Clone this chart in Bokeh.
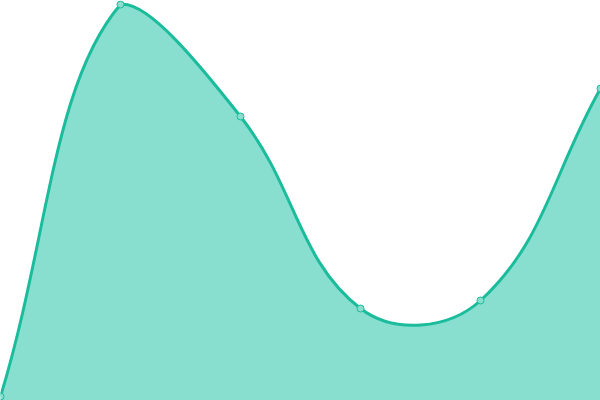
import math
from bokeh.plotting import figure
from bokeh.models import ColumnDataSource
from bokeh.embed import file_html
from bokeh.resources import INLINE

# ---- data ----
labels = ["1", "2", "3", "4", "5", "6"]
values = [1, 99, 71, 23, 25, 78]

LINE = "#1ABC9C"
W, H = 600, 400
Y_MIN, Y_MAX = 0, 100
TENSION = 0.4

xs = list(range(len(values)))
p = figure(width=W, height=H, x_range=(0, len(values) - 1), y_range=(Y_MIN, Y_MAX),
           output_backend="svg", toolbar_location=None, min_border=0,
           outline_line_color=None, background_fill_color="white",
           border_fill_color="white")
p.axis.visible = False
p.grid.visible = False

# pixel-space helpers (spline is computed in screen space, like the original)
def to_px(x, y):
    return x * W / (len(values) - 1), (1 - (y - Y_MIN) / (Y_MAX - Y_MIN)) * H

def from_px(px, py):
    return px * (len(values) - 1) / W, Y_MIN + (1 - py / H) * (Y_MAX - Y_MIN)

pts = [to_px(x, y) for x, y in zip(xs, values)]
n = len(pts)
cp_prev, cp_next = [], []
for i in range(n):
    cur = pts[i]
    prev = pts[i - 1] if i > 0 else cur
    nxt = pts[i + 1] if i < n - 1 else cur
    d01 = math.dist(prev, cur)
    d12 = math.dist(cur, nxt)
    s = d01 + d12
    s01 = d01 / s if s else 0
    s12 = d12 / s if s else 0
    fa, fb = TENSION * s01, TENSION * s12
    cpa = (cur[0] - fa * (nxt[0] - prev[0]), cur[1] - fa * (nxt[1] - prev[1]))
    cpb = (cur[0] + fb * (nxt[0] - prev[0]), cur[1] + fb * (nxt[1] - prev[1]))
    cap = lambda c: (min(max(c[0], 0), W), min(max(c[1], 0), H))
    cp_prev.append(cap(cpa))
    cp_next.append(cap(cpb))

# bezier segments (in data coordinates)
x0, y0, x1, y1, cx0, cy0, cx1, cy1 = [], [], [], [], [], [], [], []
fill_x, fill_y = [], []
for i in range(n - 1):
    a, b = pts[i], pts[i + 1]
    c0, c1 = cp_next[i], cp_prev[i + 1]
    for (px, py), lx, ly in ((a, x0, y0), (b, x1, y1), (c0, cx0, cy0), (c1, cx1, cy1)):
        dx, dy = from_px(px, py)
        lx.append(dx); ly.append(dy)
    steps = 40
    for k in range(steps + (1 if i == n - 2 else 0)):
        t = k / steps
        u = 1 - t
        bx = u**3 * a[0] + 3 * u * u * t * c0[0] + 3 * u * t * t * c1[0] + t**3 * b[0]
        by = u**3 * a[1] + 3 * u * u * t * c0[1] + 3 * u * t * t * c1[1] + t**3 * b[1]
        dx, dy = from_px(bx, by)
        fill_x.append(dx); fill_y.append(dy)

p.varea(x=fill_x, y1=[Y_MIN] * len(fill_x), y2=fill_y, fill_color="#89DFCF", fill_alpha=1.0)
p.bezier(x0=x0, y0=y0, x1=x1, y1=y1, cx0=cx0, cy0=cy0, cx1=cx1, cy1=cy1,
         line_color=LINE, line_width=3)

src = ColumnDataSource(dict(x=xs, y=values, label=labels))
p.scatter("x", "y", source=src, size=7, fill_color="#8CDDCD", line_color=LINE,
          line_width=1)

open("out.html", "w").write(file_html(p, INLINE))
